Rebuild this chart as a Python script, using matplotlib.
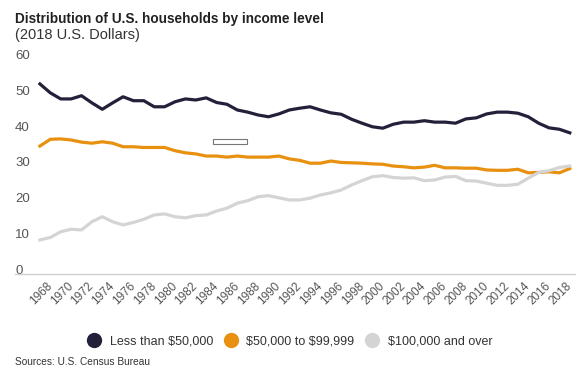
import matplotlib
matplotlib.use("Agg")
import matplotlib.pyplot as plt
from matplotlib.lines import Line2D
from matplotlib.patches import Rectangle

years = list(range(1967, 2019))

# share of households (%) per income group
under_50k = [53.1, 50.6, 48.9, 48.9, 49.8, 47.8, 46.0, 47.8, 49.5, 48.4,
             48.4, 46.7, 46.7, 48.1, 48.9, 48.6, 49.2, 47.9, 47.4, 45.8,
             45.2, 44.4, 43.9, 44.7, 45.8, 46.3, 46.7, 45.8, 45.0, 44.6,
             43.2, 42.1, 41.1, 40.7, 41.8, 42.4, 42.4, 42.8, 42.4, 42.4,
             42.1, 43.3, 43.6, 44.7, 45.2, 45.2, 44.9, 43.9, 42.1, 40.8,
             40.4, 39.4]
mid_50_100k = [35.7, 37.6, 37.7, 37.4, 36.8, 36.5, 36.9, 36.5, 35.5, 35.5,
               35.3, 35.3, 35.3, 34.4, 33.8, 33.5, 32.9, 32.9, 32.6, 32.9,
               32.6, 32.6, 32.6, 32.9, 32.1, 31.7, 30.9, 30.9, 31.5, 31.1,
               31.0, 30.9, 30.7, 30.6, 30.1, 29.9, 29.6, 29.8, 30.3, 29.6,
               29.6, 29.5, 29.5, 29.0, 28.9, 28.9, 29.2, 28.2, 28.3, 28.5,
               28.2, 29.4]
over_100k = [9.4, 10.1, 11.7, 12.4, 12.2, 14.5, 15.9, 14.5, 13.6, 14.3,
             15.2, 16.4, 16.7, 15.9, 15.6, 16.2, 16.4, 17.5, 18.3, 19.7,
             20.4, 21.5, 21.8, 21.2, 20.6, 20.6, 21.1, 22.0, 22.6, 23.4,
             24.8, 26.0, 27.1, 27.4, 26.9, 26.7, 26.8, 26.0, 26.2, 27.0,
             27.2, 26.0, 25.9, 25.3, 24.7, 24.7, 25.0, 26.7, 28.3, 28.8,
             29.7, 30.1]

labels = ["Less than \\$50,000", "\\$50,000 to \\$99,999", "\\$100,000 and over"]
colors = ["#23213a", "#e8900f", "#d4d4d4"]
y_ticks = [0, 10, 20, 30, 40, 50, 60]
x_ticks = list(range(1968, 2019, 2))

plt.rcParams['font.family'] = ['Liberation Sans', 'DejaVu Sans']

fig = plt.figure(figsize=(5.85, 3.81), dpi=100)
ax = fig.add_axes([15 / 585, 1 - 273.5 / 381, 560 / 585, 214.2 / 381])

for vals, c in zip([under_50k, mid_50_100k, over_100k], colors):
    ax.plot(years, vals, color=c, linewidth=2.3, solid_joinstyle='round')
ax.set_xlim(1964.6, 2018.5)
ax.set_ylim(0, 60)

for s in ['top', 'right', 'left']:
    ax.spines[s].set_visible(False)
ax.spines['bottom'].set_color('#d0d0d0')
ax.spines['bottom'].set_linewidth(1)

# y labels sit on top of their value, inside the plot area on the left
ax.set_yticks(y_ticks)
ax.set_yticklabels([str(v) for v in y_ticks])
ax.tick_params(axis='y', length=0, pad=0, labelsize=9.5, labelcolor='#555555')
for t in ax.yaxis.get_major_ticks():
    t.label1.set_horizontalalignment('left')
    t.label1.set_verticalalignment('baseline')
    t.label1.set_transform(ax.get_yaxis_transform())
    t.label1.set_position((0, t.get_loc()))

ax.set_xticks(x_ticks)
ax.set_xticklabels([str(v) for v in x_ticks], rotation=45, ha='right',
                   va='center', rotation_mode='anchor')
ax.tick_params(axis='x', length=0, pad=8, labelsize=8.5, labelcolor='#555555')

# small empty box left over in the original graphic
fig.patches.append(Rectangle((213 / 585, 1 - 144 / 381), 34 / 585, 5 / 381,
                             transform=fig.transFigure, facecolor='white',
                             edgecolor='#777777', linewidth=0.8))

fig.text(15 / 585, 1 - 19 / 381, "Distribution of U.S. households by income level",
         fontweight='bold', fontsize=9.8, color='#222222', va='center')
fig.text(15 / 585, 1 - 35 / 381, "(2018 U.S. Dollars)", fontsize=10.5,
         color='#333333', va='center')
fig.text(15 / 585, 1 - 362 / 381, "Sources: U.S. Census Bureau", fontsize=7.3,
         color='#333333', va='center')

handles = [Line2D([], [], linestyle='none', marker='o', markersize=10,
                  markerfacecolor=c, markeredgecolor=c) for c in colors]
fig.legend(handles, labels, loc='center', ncol=3, frameon=False,
           bbox_to_anchor=(290 / 585, 1 - 341 / 381), fontsize=9,
           handlelength=1.0, handletextpad=0.75, columnspacing=0.9,
           labelcolor='#333333')

fig.savefig("out.png", dpi=100)
